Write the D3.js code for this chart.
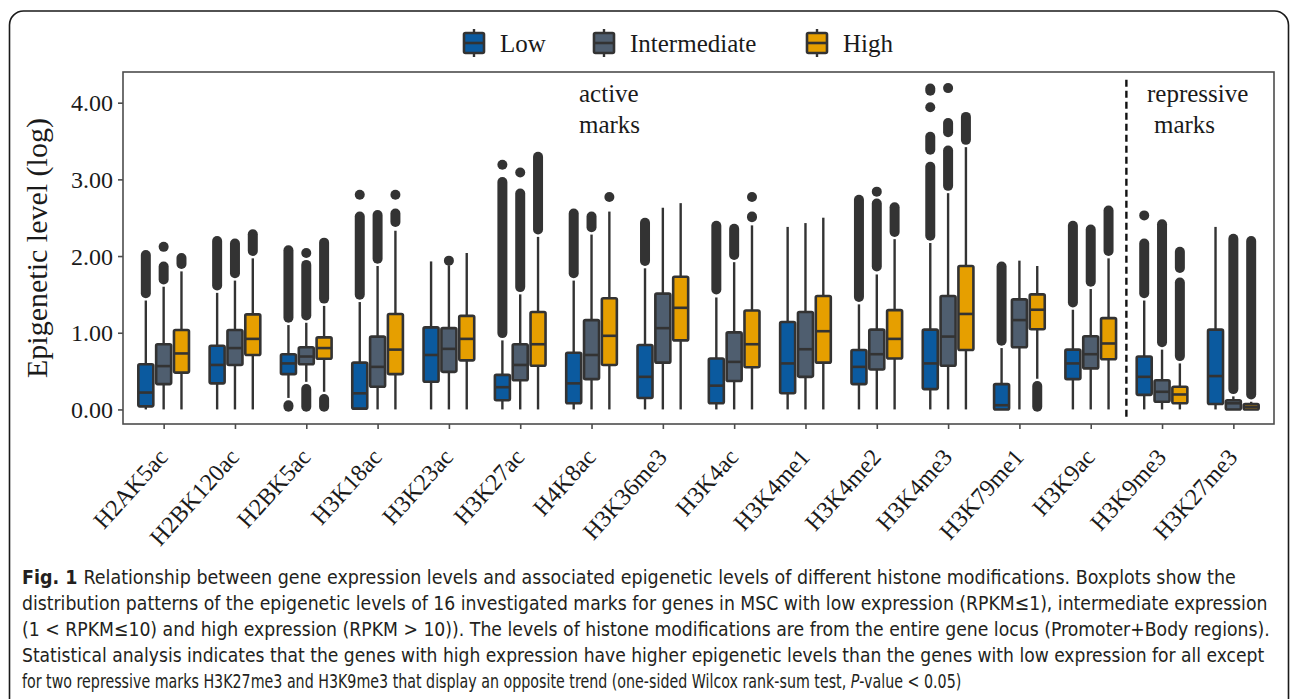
<!DOCTYPE html>
<html>
<head>
<meta charset="utf-8">
<script src="https://cdn.jsdelivr.net/npm/d3@7"></script>
<style>
body{margin:0;background:#fff;}
svg{display:block;}
</style>
</head>
<body>
<svg id="chart" width="1290" height="699"></svg>
<script>
// histone marks on the x axis
const marks=["H2AK5ac","H2BK120ac","H2BK5ac","H3K18ac","H3K23ac","H3K27ac","H4K8ac","H3K36me3",
  "H3K4ac","H3K4me1","H3K4me2","H3K4me3","H3K79me1","H3K9ac","H3K9me3","H3K27me3"];
const groups=["Low","Intermediate","High"];
const colors=["#0b5a9f","#4f5e6f","#e69f00"];
const yTicks=[0,1,2,3,4];

// [whisker low, q1, median, q3, whisker high]
const lowBox=[[0,0.04,0.22,0.59,1.42],[0,0.34,0.58,0.83,1.52],[0.15,0.46,0.60,0.72,1.10],[0,0.01,0.21,0.61,1.40],
  [0,0.36,0.71,1.07,1.93],[0,0.12,0.29,0.45,0.90],[0,0.08,0.34,0.74,1.68],[0,0.15,0.425,0.84,1.84],
  [0,0.08,0.31,0.665,1.46],[0,0.21,0.60,1.14,2.38],[0,0.33,0.555,0.775,1.37],[0,0.265,0.60,1.04,2.17],
  [0,0,0.055,0.33,0.80],[0,0.395,0.60,0.78,1.30],[0,0.19,0.425,0.69,1.42],[0,0.07,0.435,1.04,2.38]];
const midBox=[[0,0.33,0.565,0.85,1.60],[0,0.58,0.80,1.035,1.68],[0.36,0.59,0.69,0.81,1.13],[0,0.295,0.555,0.95,1.87],
  [0,0.49,0.79,1.06,1.88],[0,0.38,0.58,0.85,1.50],[0,0.395,0.71,1.165,2.28],[0,0.61,1.06,1.51,2.63],
  [0,0.37,0.62,1.005,1.92],[0,0.425,0.785,1.27,2.43],[0,0.52,0.72,1.04,1.76],[0,0.57,0.95,1.48,2.82],
  [0,0.81,1.165,1.435,1.94],[0,0.535,0.72,0.955,1.57],[0,0.10,0.23,0.38,0.78],[0,0,0.08,0.12,0.17]];
const highBox=[[0,0.48,0.73,1.035,1.80],[0,0.71,0.92,1.24,1.97],[0.23,0.66,0.80,0.94,1.35],[0,0.46,0.78,1.245,2.33],
  [0,0.64,0.92,1.22,2.04],[0,0.57,0.85,1.27,2.25],[0,0.58,0.96,1.45,2.58],[0,0.90,1.325,1.73,2.69],
  [0,0.55,0.85,1.29,2.40],[0,0.61,1.02,1.48,2.50],[0,0.665,0.92,1.295,2.22],[0,0.775,1.245,1.87,3.42],
  [0.40,1.045,1.30,1.50,1.87],[0,0.655,0.86,1.19,1.97],[0,0.08,0.195,0.295,0.60],[0,0,0.035,0.07,0.10]];

// dense outlier stretches [from,to] and single outlier points
const lowRuns=[[[1.45,2.08]],[[1.55,2.26]],[[1.13,2.14],[-0.03,0.12]],[[1.43,2.58]],[],[[0.93,3.03]],[[1.71,2.62]],[[1.87,2.50]],
  [[1.50,2.46]],[],[[1.40,2.80]],[[2.20,3.23],[3.32,3.62],[4.12,4.22]],[[0.83,1.93]],[[1.33,2.46]],[[1.45,2.23]],[]];
const midRuns=[[[1.63,1.93]],[[1.71,2.23]],[[1.16,1.95],[-0.03,0.33]],[[1.90,2.60]],[],[[1.53,2.88]],[[2.31,2.58]],[],
  [[1.95,2.42]],[],[[1.80,2.75]],[[2.85,3.44],[3.55,3.80]],[],[[1.60,2.41]],[[0.81,2.48]],[[0.20,2.29]]];
const highRuns=[[[1.83,2.04]],[[2.00,2.35]],[[1.38,2.24],[-0.03,0.20]],[[2.38,2.62]],[],[[2.28,3.36]],[],[],
  [[2.44,2.58]],[],[[2.25,2.70]],[[3.45,3.88]],[[-0.03,0.37]],[[2.00,2.66]],[[0.63,1.72],[1.78,2.12]],[[0.13,2.26]]];
const lowDots=[[],[],[],[2.80],[],[3.19],[],[],[],[],[],[3.94],[],[],[2.53],[]];
const midDots=[[2.12],[],[2.04],[],[1.94],[3.09],[],[],[],[],[2.84],[4.19],[],[],[],[]];
const highDots=[[],[],[],[2.80],[],[],[2.77],[],[2.77],[],[],[],[],[],[],[]];

const captionLines=[
  ["Relationship between gene expression levels and associated epigenetic levels of different histone modifications. Boxplots show the"],
  ["distribution patterns of the epigenetic levels of 16 investigated marks for genes in MSC with low expression (RPKM\u22641), intermediate expression"],
  ["(1 < RPKM\u226410) and high expression (RPKM > 10)). The levels of histone modifications are from the entire gene locus (Promoter+Body regions)."],
  ["Statistical analysis indicates that the genes with high expression have higher epigenetic levels than the genes with low expression for all except"],
  ["for two repressive marks H3K27me3 and H3K9me3 that display an opposite trend (one-sided Wilcox rank-sum test, ","P","-value < 0.05)"]
];
const captionWidths=[1215,1246,1248,1243,940];

const boxes=[lowBox,midBox,highBox], runs=[lowRuns,midRuns,highRuns], dots=[lowDots,midDots,highDots];

const svg=d3.select('#chart');
const serif='"Liberation Serif","Times New Roman",serif';
const pLeft=123,pRight=1274,pTop=72,pBottom=424;
const dark='#333333';

const x=d3.scalePoint().domain(marks).range([pLeft,pRight]).padding(0.57);
const dodge=d3.scalePoint().domain(groups).range([-x.step()/4,x.step()/4]);
const y=d3.scaleLinear().domain([-0.19,4.40]).range([pBottom,pTop]);
const fill=d3.scaleOrdinal().domain(groups).range(colors);
const bw=15;

// figure frame
svg.append('rect').attr('x',9.5).attr('y',11).attr('width',1279).attr('height',740).attr('rx',14)
  .attr('fill','none').attr('stroke','#1a1a1a').attr('stroke-width',1.6);

svg.append('rect').attr('x',pLeft).attr('y',pTop).attr('width',pRight-pLeft).attr('height',pBottom-pTop)
  .attr('fill','#fff').attr('stroke','#4d4d4d').attr('stroke-width',1.6);

// axes
const yAxis=svg.append('g').attr('transform','translate('+pLeft+',0)')
  .call(d3.axisLeft(y).tickValues(yTicks).tickFormat(d3.format('.2f')).tickSize(5).tickPadding(5));
const xAxis=svg.append('g').attr('transform','translate(0,'+pBottom+')')
  .call(d3.axisBottom(x).tickSize(5));
[yAxis,xAxis].forEach(a=>{
  a.select('.domain').remove();
  a.selectAll('line').attr('stroke','#4d4d4d').attr('stroke-width',1.6);
  a.selectAll('text').attr('fill','#1a1a1a').style('font-family',serif).style('font-size','24px');
});
yAxis.selectAll('text').attr('dy','0.34em');
xAxis.selectAll('text').attr('x',0).attr('y',0).attr('dy',0).style('font-size','24px')
  .attr('text-anchor','end').attr('transform','translate(5,34) rotate(-48)');

svg.append('text').attr('transform','translate(47,'+((pTop+pBottom)/2)+') rotate(-90)')
  .attr('text-anchor','middle').style('font-family',serif).style('font-size','30px').attr('fill','#1a1a1a')
  .text('Epigenetic level (log)');

// boxplots
const rows=marks.flatMap((m,i)=>groups.map((g,j)=>({mark:m,group:g,s:boxes[j][i],runs:runs[j][i],dots:dots[j][i]})));
const cx=d=>x(d.mark)+dodge(d.group);
const gBox=svg.append('g').selectAll('g').data(rows).join('g');

gBox.append('line').attr('x1',cx).attr('x2',cx).attr('y1',d=>y(d.s[0])).attr('y2',d=>y(d.s[1]))
  .attr('stroke',dark).attr('stroke-width',2.4);
gBox.append('line').attr('x1',cx).attr('x2',cx).attr('y1',d=>y(d.s[3])).attr('y2',d=>y(d.s[4]))
  .attr('stroke',dark).attr('stroke-width',2.4);
gBox.selectAll('.run').data(d=>d.runs.map(r=>({r,x:cx(d)}))).join('line').attr('class','run')
  .attr('x1',d=>d.x).attr('x2',d=>d.x)
  .attr('y1',d=>Math.min(y(d.r[1])+5,y(d.r[0])))
  .attr('y2',d=>Math.max(y(d.r[0])-5,y(d.r[1])))
  .attr('stroke',dark).attr('stroke-width',10).attr('stroke-linecap','round');
gBox.selectAll('circle').data(d=>d.dots.map(v=>({v,x:cx(d)}))).join('circle')
  .attr('cx',d=>d.x).attr('cy',d=>y(d.v)).attr('r',5).attr('fill',dark);
gBox.append('rect').attr('x',d=>cx(d)-bw/2).attr('width',bw)
  .attr('y',d=>y(d.s[3])).attr('height',d=>y(d.s[1])-y(d.s[3])).attr('rx',1.5)
  .attr('fill',d=>fill(d.group)).attr('stroke',dark).attr('stroke-width',2.6);
gBox.append('line').attr('x1',d=>cx(d)-bw/2).attr('x2',d=>cx(d)+bw/2)
  .attr('y1',d=>y(d.s[2])).attr('y2',d=>y(d.s[2])).attr('stroke',dark).attr('stroke-width',2.6);

// divider between active and repressive marks
const divX=(x('H3K9ac')+x('H3K9me3'))/2;
svg.append('line').attr('x1',divX).attr('x2',divX).attr('y1',y(4.30)).attr('y2',y(-0.14))
  .attr('stroke','#111').attr('stroke-width',2.4).attr('stroke-dasharray','7,4');

const note=(t,px,py)=>svg.append('text').attr('x',px).attr('y',py).style('font-family',serif)
  .style('font-size','25px').attr('fill','#1a1a1a').text(t);
note('active',579,102);note('marks',579,133);
note('repressive',1147,102);note('marks',1154,133);

// legend
const legendX=[463,593,806];
const leg=svg.append('g').selectAll('g').data(groups).join('g')
  .attr('transform',(d,i)=>'translate('+legendX[i]+',0)');
leg.append('line').attr('x1',11).attr('x2',11).attr('y1',29).attr('y2',57).attr('stroke',dark).attr('stroke-width',2.4);
leg.append('rect').attr('x',1).attr('y',33).attr('width',20).attr('height',20).attr('rx',1.5)
  .attr('fill',d=>fill(d)).attr('stroke',dark).attr('stroke-width',2.6);
leg.append('line').attr('x1',1).attr('x2',21).attr('y1',43).attr('y2',43).attr('stroke',dark).attr('stroke-width',2.6);
leg.append('text').attr('x',37).attr('y',52).style('font-family',serif).style('font-size','25px')
  .attr('fill','#1a1a1a').text(d=>d);

// caption: narrow sans, each line squeezed to the width it has in the figure
const cap=svg.append('g').style('font-family','"Liberation Sans Narrow","DejaVu Sans Condensed","Liberation Sans",sans-serif')
  .style('font-size','20px').attr('fill','#231f20');
captionLines.forEach((parts,i)=>{
  const t=cap.append('text');
  if(i===0) t.append('tspan').style('font-weight','bold').text('Fig. 1 ');
  parts.forEach((p,k)=>{
    const s=t.append('tspan').text(p);
    if(i===4&&k===1) s.style('font-style','italic');
  });
  const k=captionWidths[i]/t.node().getComputedTextLength();
  t.attr('transform','translate(22,'+(584+i*26)+') scale('+k+',1)');
});
</script>
</body>
</html>
